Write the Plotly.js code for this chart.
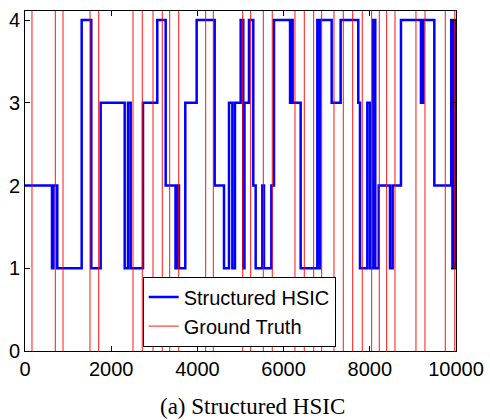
<!DOCTYPE html>
<html>
<head>
<meta charset="utf-8">
<script src="https://cdn.plot.ly/plotly-3.0.1.min.js"></script>
<style>html,body{margin:0;padding:0;background:#fff;}#chart{width:490px;height:420px;}</style>
</head>
<body>
<div id="chart"></div>
<script>
// Step series: x where each segment starts, and its level
const hsicChangeX = [0, 626, 661, 749, 1315, 1538, 1756, 2313, 2390, 2452, 2738, 3069, 3264, 3492, 3538, 3573, 3719, 3983, 4401, 4617, 4733, 4811, 4872, 5004, 5065, 5092, 5197, 5297, 5352, 5506, 5545, 5715, 5777, 6150, 6175, 6210, 6396, 6782, 6805, 6844, 7115, 7324, 7733, 7772, 7942, 8004, 8081, 8127, 8206, 8468, 8530, 8723, 9187, 9242, 9497, 9890, 9918, 9941, 9976, 10000];
const hsicLevel   = [2, 1, 2, 1, 4, 1, 3, 1, 3, 1, 3, 4, 2, 1, 2, 1, 3, 4, 2, 1, 3, 1, 3, 4, 1, 3, 4, 2, 1, 2, 1, 2, 4, 3, 4, 3, 1, 4, 1, 4, 3, 4, 3, 1, 3, 1, 4, 1, 2, 1, 2, 4, 3, 4, 2, 4, 1, 4, 1, 1];
// Ground truth change points
const truthX = [162, 703, 882, 1508, 1710, 2506, 2721, 2970, 3185, 3357, 3566, 4192, 4369, 5051, 5236, 5529, 5737, 6264, 6480, 6698, 6883, 7169, 7385, 7603, 7825, 8043, 8220, 8391, 8584, 9071, 9280, 9751, 9971];
const xTicks = [0, 2000, 4000, 6000, 8000, 10000];
const yTicks = [0, 1, 2, 3, 4];
const yMax = 4.11;

const gx = [], gy = [];
truthX.forEach(v => { gx.push(v, v, null); gy.push(0, yMax, null); });

const traces = [
  {x: hsicChangeX, y: hsicLevel, type: 'scatter', mode: 'lines', name: 'Structured HSIC',
   line: {color: '#0000ff', width: 2.5, shape: 'hv'}},
  {x: gx, y: gy, type: 'scatter', mode: 'lines', name: 'Ground Truth',
   line: {color: 'rgba(255,0,0,0.92)', width: 1}, connectgaps: false}
];

const axisCommon = {showgrid: false, zeroline: false, showline: true, linecolor: '#000', linewidth: 1,
  mirror: 'ticks', ticks: 'inside', ticklen: 5, tickwidth: 1, tickcolor: '#000',
  tickfont: {family: 'Liberation Sans, Arial, sans-serif', size: 20, color: '#000'}};

const layout = {
  width: 490, height: 420,
  margin: {l: 25, r: 34, t: 11, b: 69},
  paper_bgcolor: '#fff', plot_bgcolor: '#fff',
  showlegend: true,
  xaxis: Object.assign({}, axisCommon, {range: [0, 10000], tickvals: xTicks, ticktext: xTicks.map(String)}),
  yaxis: Object.assign({}, axisCommon, {range: [0, yMax], tickvals: yTicks, ticktext: yTicks.map(String)}),
  legend: {x: 0.273, y: 0.013, xanchor: 'left', yanchor: 'bottom', bgcolor: '#fff',
    bordercolor: '#000', borderwidth: 1,
    font: {family: 'Liberation Sans, Arial, sans-serif', size: 20, color: '#000'}},
  annotations: [{text: '(a) Structured HSIC', xref: 'paper', yref: 'paper', x: 0.527, y: -0.162,
    xanchor: 'center', yanchor: 'middle', showarrow: false,
    font: {family: 'Liberation Serif, Times New Roman, serif', size: 23, color: '#000'}}]
};

Plotly.newPlot('chart', traces, layout, {displayModeBar: false, staticPlot: true});
</script>
</body>
</html>
